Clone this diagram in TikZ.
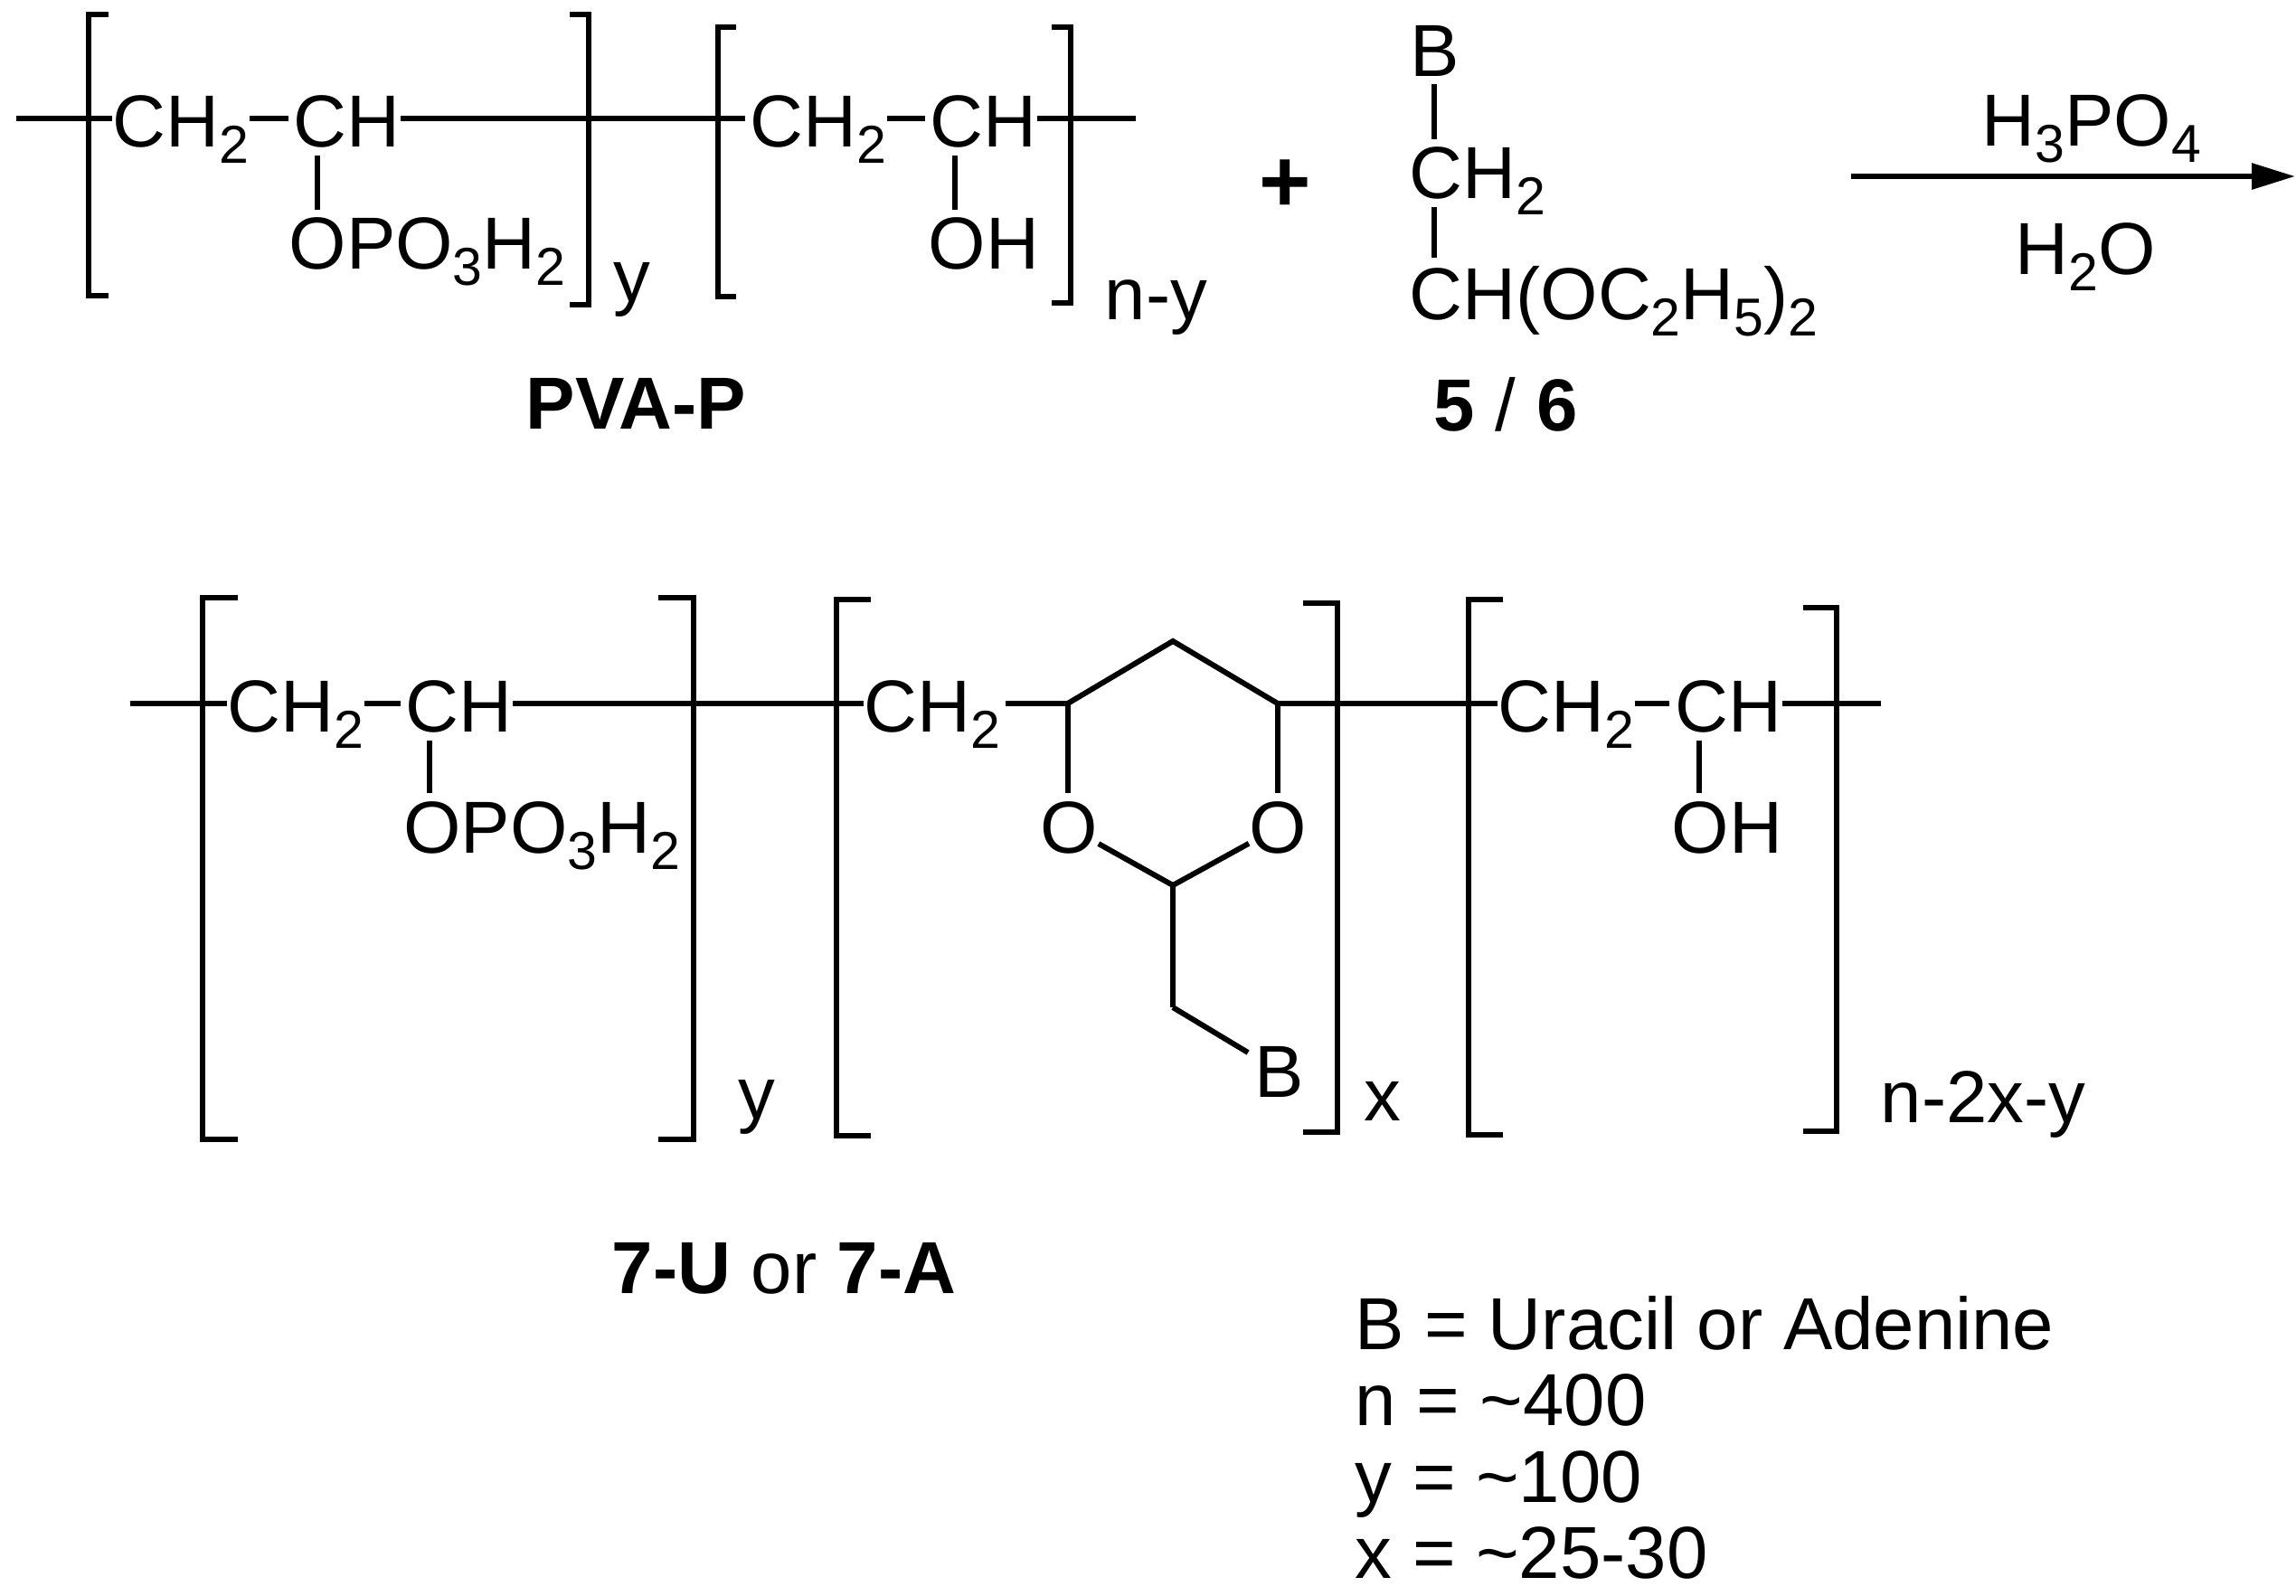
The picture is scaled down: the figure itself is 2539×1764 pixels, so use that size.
\documentclass[tikz,border=0pt]{standalone}
\usepackage{fontspec}
\setmainfont{Liberation Sans}
\usetikzlibrary{positioning,arrows.meta}
\newcommand{\chemsub}[1]{\raisebox{-0.18cm}{\fontsize{16.8}{18}\selectfont #1}}

\begin{document}
\begin{tikzpicture}[
    x=0.1mm, y=-0.1mm,
    atom/.style={inner sep=0pt, anchor=base west, font=\fontsize{23.2}{24}\selectfont},
    boldlabel/.style={atom, font=\fontsize{23.2}{24}\selectfont\bfseries},
    bond/.style={line width=1.7pt},
    hbond/.style={bond, shorten >=1.5pt},
    vbond/.style={bond, shorten <=2.8pt, shorten >=2.3pt},
    bracket/.style={line width=1.7pt, line join=miter},
]
\useasboundingbox (0,0) rectangle (2539,1764);

% top row, first unit
\node[atom] (ch2a) at (124,162.5) {CH\chemsub{2}};
\node[atom] (cha) at (324,162.5) {CH};
\node[atom] (opa) at (319,297.5) {OPO\chemsub{3}H\chemsub{2}};
\node[atom] (ya) at (678,333) {y};
\coordinate (starta) at (18,131);
\coordinate (ja) at (351,131);
\draw[bond] (starta) -- (ch2a.west |- starta);
\draw[hbond] (ch2a.east |- starta) -- (cha.west |- starta);
\draw[vbond] (ja |- cha.base) -- (ja |- opa.north);
\draw[bracket] (120,15.6) -- (98,15.6) -- (98,327) -- (120,327);
\draw[bracket] (630,15.6) -- (651,15.6) -- (651,337) -- (630,337);

% top row, second unit
\node[atom] (ch2b) at (829,162.5) {CH\chemsub{2}};
\node[atom] (chb) at (1028,162.5) {CH};
\node[atom] (ohb) at (1026,297.5) {OH};
\node[atom] (nyb) at (1221,353) {n-y};
\coordinate (endb) at (1256,131);
\coordinate (jb) at (1056,131);
\draw[hbond] (cha.east |- starta) -- (ch2b.west |- starta);
\draw[hbond] (ch2b.east |- starta) -- (chb.west |- starta);
\draw[bond] (chb.east |- starta) -- (endb);
\draw[vbond] (jb |- chb.base) -- (jb |- ohb.north);
\draw[bracket] (814,30) -- (794,30) -- (794,328) -- (814,328);
\draw[bracket] (1163,30) -- (1184,30) -- (1184,335) -- (1163,335);
\node[boldlabel] (pvap) at (581,474.3) {PVA-P};

% acetal
\node[inner sep=0pt, font=\fontsize{28}{28}\selectfont\bfseries] (plus) at (1421,206) {+};
\node[atom] (bc) at (1559,84.6) {B};
\node[atom] (ch2c) at (1558,219.6) {CH\chemsub{2}};
\node[atom] (chc) at (1558,353) {CH(OC\chemsub{2}H\chemsub{5})\chemsub{2}};
\node[atom] (five) at (1585,476) {\textbf{5} / \textbf{6}};
\coordinate (jc) at (1586,131);
\draw[bond, shorten <=2.3pt, shorten >=2.3pt] (jc |- bc.base) -- (jc |- ch2c.north);
\draw[vbond] (jc |- ch2c.base) -- (jc |- chc.north);

% reaction arrow
\node[atom] (acid) at (2191,161) {H\chemsub{3}PO\chemsub{4}};
\node[atom] (water) at (2228,303) {H\chemsub{2}O};
\coordinate (arrowl) at (2047,195);
\coordinate (arrowr) at (2538,195);
\draw[line width=1.7pt, -{Triangle[length=4.8mm, width=2.8mm]}] (arrowl) -- (arrowr);

% bottom row, first unit
\node[atom] (ch2d) at (250.6,809) {CH\chemsub{2}};
\node[atom] (chd) at (448,809) {CH};
\node[atom] (opd) at (445.7,943) {OPO\chemsub{3}H\chemsub{2}};
\node[atom] (yd) at (816,1237) {y};
\coordinate (startd) at (143.6,778);
\coordinate (jd) at (475,778);
\draw[bond] (startd) -- (ch2d.west |- startd);
\draw[hbond] (ch2d.east |- startd) -- (chd.west |- startd);
\draw[vbond] (jd |- chd.base) -- (jd |- opd.north);
\draw[bracket] (263,661) -- (224,661) -- (224,1259.6) -- (263,1259.6);
\draw[bracket] (727.5,661) -- (766.6,661) -- (766.6,1259.6) -- (727.5,1259.6);

% bottom row, dioxane ring
\node[atom] (ch2e) at (954.6,809) {CH\chemsub{2}};
\node[atom] (ol) at (1150,943) {O};
\node[atom] (or) at (1381,943) {O};
\node[atom] (be) at (1387,1213) {B};
\node[atom] (xe) at (1508,1239) {x};
\coordinate (r1) at (1180.6,778);
\coordinate (r2) at (1297,709);
\coordinate (r3) at (1413,778);
\coordinate (r4) at (1297,979);
\coordinate (r5) at (1297,1114);
\draw[bond] (chd.east |- startd) -- (ch2e.west |- startd);
\draw[bond, shorten <=1.5pt] (ch2e.east |- startd) -- (r1);
\draw[bond, line join=miter] (r1) -- (r2) -- (r3);
\draw[bond, shorten >=2.3pt] (r1) -- (r1 |- ol.north);
\draw[bond, shorten >=2.3pt] (r3) -- (r3 |- or.north);
\draw[bond] (ol) -- (r4) -- (or);
\draw[bond] (r4) -- (r5);
\draw[bond, shorten >=2.3pt] (r5) -- (be);
\draw[bracket] (963,663.4) -- (925,663.4) -- (925,1256) -- (963,1256);
\draw[bracket] (1440.6,667) -- (1478.6,667) -- (1478.6,1252) -- (1440.6,1252);

% bottom row, last unit
\node[atom] (ch2f) at (1655.5,809) {CH\chemsub{2}};
\node[atom] (chf) at (1851.5,809) {CH};
\node[atom] (ohf) at (1848,943) {OH};
\node[atom] (nf) at (2079,1241) {n-2x-y};
\coordinate (endf) at (2080,778);
\coordinate (jf) at (1879,778);
\draw[bond] (r3) -- (ch2f.west |- startd);
\draw[hbond] (ch2f.east |- startd) -- (chf.west |- startd);
\draw[bond] (chf.east |- startd) -- (endf);
\draw[vbond] (jf |- chf.base) -- (jf |- ohf.north);
\draw[bracket] (1662,663) -- (1624,663) -- (1624,1255) -- (1662,1255);
\draw[bracket] (1994,672) -- (2031,672) -- (2031,1251) -- (1994,1251);

\node[atom] (prod) at (676,1430) {\textbf{7-U} or \textbf{7-A}};
\node[atom, anchor=south west, align=left] (legend) at (1498,1747)
    {B = Uracil or Adenine\\n = \textasciitilde 400\\y = \textasciitilde 100\\x = \textasciitilde 25-30};
\end{tikzpicture}
\end{document}
